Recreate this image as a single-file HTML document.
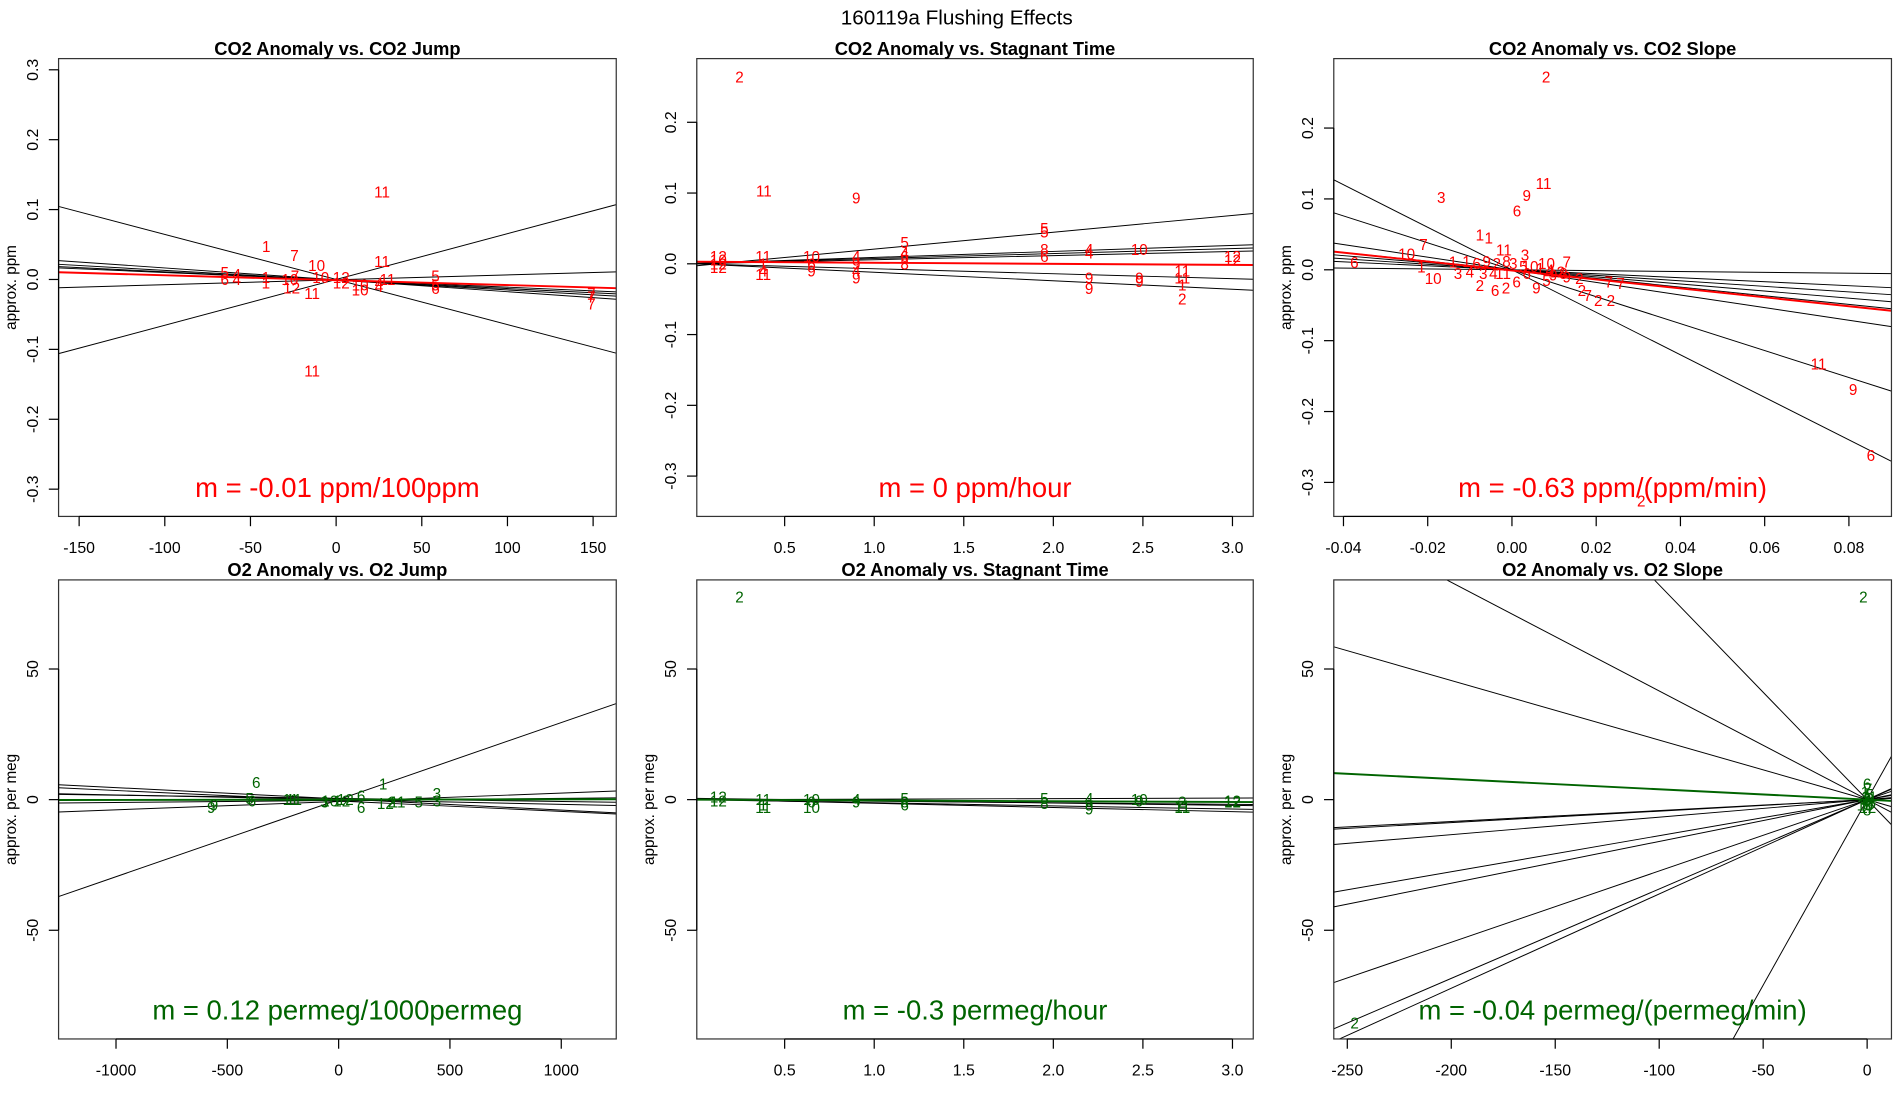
<!DOCTYPE html>
<html><head><meta charset="utf-8"><title>160119a Flushing Effects</title>
<style>html,body{margin:0;padding:0;background:#fff;overflow:hidden;width:1900px;height:1100px;}svg{display:block;}</style></head>
<body>
<svg id="fig" xmlns="http://www.w3.org/2000/svg" width="1900" height="1100" viewBox="0 0 1557 901" preserveAspectRatio="none" font-family="Liberation Sans, sans-serif">
<text x="784" y="20" font-size="17" text-anchor="middle">160119a    Flushing Effects</text>
</svg>
<script>
// ---- Panel 1: CO2 Anomaly vs. CO2 Jump ----
const p1X = [26.8,-40.8,-24.3,-11.4,26.8,-14,-14,-26,-65,-58,-65,-58,-41,-41,-27,-24,-9,3,3,14,14,25,25,30,58,58,58,149,149,149];
const p1Y = [0.125,0.047,0.034,0.02,0.026,-0.131,-0.02,-0.012,0.01,0.007,0.0,0.0,0.003,-0.005,0.0,0.005,0.003,0.003,-0.005,-0.008,-0.015,-0.005,-0.01,0.0,0.005,-0.008,-0.013,-0.02,-0.035,-0.025];
const p1Lab = ["11","1","7","10","11","11","11","12","5","4","6","4","1","1","10","7","10","12","12","10","10","4","4","11","5","5","6","7","7","7"];
const p1Slopes = [-0.000645,0.000655,0.00007,-0.00017,-0.00014,-0.00012,-0.000105];
const p1Ints = [0,0,-0.0005,-0.0005,-0.001,-0.001,-0.0005];
const p1Fit = [-0.00007,-0.001];
const p1XTicks = [-150,-100,-50,0,50,100,150];
const p1YTicks = [-0.3,-0.2,-0.1,0.0,0.1,0.2,0.3];
const p1XTickLab = ["-150","-100","-50","0","50","100","150"];
const p1YTickLab = ["-0.3","-0.2","-0.1","0.0","0.1","0.2","0.3"];

// ---- Panel 2: CO2 Anomaly vs. Stagnant Time ----
const p2X = [0.248,0.384,0.9,0.13,0.13,0.13,0.13,0.38,0.38,0.38,0.38,0.65,0.65,0.65,0.9,0.9,0.9,0.9,1.17,1.17,1.17,1.17,1.95,1.95,1.95,1.95,2.2,2.2,2.2,2.2,2.48,2.48,2.48,2.72,2.72,2.72,2.72,3.0,3.0];
const p2Y = [0.264,0.103,0.093,0.01,0.005,0.0,-0.005,0.01,0.0,-0.01,-0.015,0.01,0.0,-0.01,0.01,0.0,-0.01,-0.02,0.03,0.015,0.01,0.0,0.05,0.045,0.02,0.01,0.02,0.015,-0.02,-0.035,0.02,-0.02,-0.025,-0.01,-0.02,-0.03,-0.05,0.01,0.005];
const p2Lab = ["2","11","9","12","10","12","12","11","1","4","11","10","6","9","4","9","4","9","5","4","6","8","5","5","8","6","4","4","9","9","10","9","9","11","11","1","2","12","12"];
const p2Slopes = [0.0238,0.0085,0.007,0.0058,-0.007,-0.012];
const p2Ints = [-0.003,0.0005,0.0005,0.0,0.0,0.0];
const p2Fit = [-0.0015,0.003];
const p2XTicks = [0.5,1.0,1.5,2.0,2.5,3.0];
const p2YTicks = [-0.3,-0.2,-0.1,0.0,0.1,0.2];
const p2XTickLab = ["0.5","1.0","1.5","2.0","2.5","3.0"];
const p2YTickLab = ["-0.3","-0.2","-0.1","0.0","0.1","0.2"];

// ---- Panel 3: CO2 Anomaly vs. CO2 Slope ----
const p3X = [0.0081,-0.0168,0.0035,0.0075,0.0012,-0.0055,-0.021,-0.025,-0.0374,0.0728,0.081,0.0852,0.0307,0.0258,0.0235,-0.0076,-0.0019,0.0031,0.0082,0.013,-0.0215,-0.0187,-0.014,-0.0128,-0.010,-0.0076,-0.004,-0.0014,0.0011,0.0058,0.0082,0.013,0.016,0.0166,0.018,0.0205,0.023,-0.0108,-0.0084,-0.006,-0.0036,-0.0013,0.0003,0.0027,0.0043,0.0067,0.009,0.0106,-0.0068,-0.0044,-0.0021,0.0035,0.0098,0.0122];
const p3Y = [0.272,0.102,0.105,0.122,0.083,0.045,0.036,0.022,0.01,-0.133,-0.169,-0.262,-0.326,-0.019,-0.043,0.049,0.028,0.021,0.009,0.011,0.004,-0.012,0.011,-0.005,-0.003,-0.022,-0.029,-0.026,-0.017,-0.026,-0.015,-0.01,-0.012,-0.029,-0.036,-0.043,-0.017,0.0114,0.009,0.0114,0.009,0.0114,0.009,0.0043,0.0043,0.0019,-0.0004,-0.0028,-0.0051,-0.0051,-0.0051,-0.0051,-0.0075,-0.0051];
const p3Lab = ["2","3","9","11","6","1","7","10","6","11","9","6","2","7","2","1","11","3","10","7","1","10","1","3","4","2","6","2","6","9","5","9","2","2","7","2","7","1","6","9","2","8","3","5","10","1","4","12","3","4","11","6","9","8"];
const p3Slopes = [-3.0,-1.9,-0.89,-0.61,-0.5,-0.39,-0.28,-0.06];
const p3Ints = [0,0,0,0,0,0,0,0];
const p3Fit = [-0.63,-0.001];
const p3XTicks = [-0.04,-0.02,0.0,0.02,0.04,0.06,0.08];
const p3YTicks = [-0.3,-0.2,-0.1,0.0,0.1,0.2];
const p3XTickLab = ["-0.04","-0.02","0.00","0.02","0.04","0.06","0.08"];
const p3YTickLab = ["-0.3","-0.2","-0.1","0.0","0.1","0.2"];

// ---- Panel 4: O2 Anomaly vs. O2 Jump ----
const p4X = [-370,-400,-390,-572,-560,-216,-200,-63,-40,14,30,101,101,200,210,240,265,360,441,441];
const p4Y = [6.5,0.5,-0.5,-3,-2,0,0,-1,-0.5,-0.5,0,1.4,-3,6,-1.5,-1,-1,-1,2.3,-0.5];
const p4Lab = ["6","5","6","9","9","11","11","3","10","12","12","6","6","1","12","2","11","5","3","3"];
const p4Slopes = [0.0295,-0.0043,-0.004,0.0032,-0.0018,-0.0012,0.0008];
const p4Ints = [0,0.3,-0.5,-0.7,0,0.5,-0.3];
const p4Fit = [0.00012,0];
const p4XTicks = [-1000,-500,0,500,1000];
const p4YTicks = [-50,0,50];
const p4XTickLab = ["-1000","-500","0","500","1000"];
const p4YTickLab = ["-50","0","50"];

// ---- Panel 5: O2 Anomaly vs. Stagnant Time ----
const p5X = [0.13,0.13,0.38,0.38,0.38,0.65,0.65,0.65,0.9,0.9,1.17,1.17,1.17,1.95,1.95,2.2,2.2,2.2,2.48,2.48,2.72,2.72,2.72,3.0,3.0,0.248];
const p5Y = [1,-0.5,0,-2,-3,0,-1,-3,0,-1,0.5,-1,-2,0.5,-1.5,0.5,-2,-3.5,0,-0.5,-1,-2.5,-3,-0.5,-1,77.6];
const p5Lab = ["12","12","11","1","11","10","6","10","4","9","5","8","6","5","8","4","9","9","10","9","2","11","11","12","12","2"];
const p5Slopes = [-0.3,-1.6,-1.2,-0.6,0.2,-0.9];
const p5Ints = [0,0.2,0,0,0,0.5];
const p5Fit = [-0.3,0];
const p5XTicks = [0.5,1.0,1.5,2.0,2.5,3.0];
const p5YTicks = [-50,0,50];
const p5XTickLab = ["0.5","1.0","1.5","2.0","2.5","3.0"];
const p5YTickLab = ["-50","0","50"];

// ---- Panel 6: O2 Anomaly vs. O2 Slope ----
const p6X = [-1.8,-246.5,0,-1,1,0,-0.5,0.8,0,-1,1,0.3,0.5,-0.6];
const p6Y = [77.6,-85.5,6,3,2,0,-1,-2,-4,-2,1,-3,4,1];
const p6Lab = ["2","2","6","1","5","3","4","9","8","10","11","12","7","2"];
const p6Slopes = [-0.416,-0.822,-0.228,0.0418,0.044,0.067,0.138,0.160,0.273,0.342,0.361,1.42];
const p6Ints = [0,0,0,0,0,0,0,0,0,0,0,0];
const p6Fit = [-0.0396,0];
const p6XTicks = [-250,-200,-150,-100,-50,0];
const p6YTicks = [-50,0,50];
const p6XTickLab = ["-250","-200","-150","-100","-50","0"];
const p6YTickLab = ["-50","0","50"];

const NS = "http://www.w3.org/2000/svg";
const fig = document.getElementById('fig');
function mk(tag, attrs, parent){ const e=document.createElementNS(NS,tag); for(const k in attrs) e.setAttribute(k,attrs[k]); (parent||fig).appendChild(e); return e; }

// clip line y=a+m*x to the rectangle xlim x ylim; returns [x0,x1] or null
function clipSeg(m,a,xlim,ylim){
  let lo=xlim[0], hi=xlim[1];
  if(m!==0){
    let xa=(ylim[0]-a)/m, xb=(ylim[1]-a)/m;
    if(xa>xb){const t=xa;xa=xb;xb=t;}
    lo=Math.max(lo,xa); hi=Math.min(hi,xb);
  } else if(a<ylim[0]||a>ylim[1]) return null;
  return lo<hi?[lo,hi]:null;
}

function panel(cfg){
  const g = mk('g',{});
  
  
  const b = cfg.box;
  const sx = v => b[0] + (v - cfg.xlim[0])/(cfg.xlim[1]-cfg.xlim[0])*(b[2]-b[0]);
  const sy = v => b[3] - (v - cfg.ylim[0])/(cfg.ylim[1]-cfg.ylim[0])*(b[3]-b[1]);
  const inner = mk('g',{}, g);
  
  
  cfg.slopes.forEach((m,i)=>{
    const a=cfg.ints[i];
    const s=clipSeg(m,a,cfg.xlim,cfg.ylim);
    if(!s) return;
    const l = mk('line',{x1:sx(s[0]),y1:sy(a+m*s[0]),x2:sx(s[1]),y2:sy(a+m*s[1]),stroke:'#000','stroke-width':0.8}, inner);
    
    
  });
  cfg.px.forEach((x,i)=>{
    const t = mk('text',{x:sx(x),y:sy(cfg.py[i])+4.5,'font-size':12.5,'text-anchor':'middle',fill:cfg.color}, inner);
    t.textContent = cfg.plab[i];
    
    
  });
  const f=cfg.fit;
  const fs=clipSeg(f[0],f[1],cfg.xlim,cfg.ylim);
  if(fs){
    const fl = mk('line',{x1:sx(fs[0]),y1:sy(f[1]+f[0]*fs[0]),x2:sx(fs[1]),y2:sy(f[1]+f[0]*fs[1]),stroke:cfg.color,'stroke-width':1.6}, inner);
    
    
  }
  const bx = mk('rect',{x:b[0],y:b[1],width:b[2]-b[0],height:b[3]-b[1],fill:'none',stroke:'#333','stroke-width':1}, g);
  
  
  const xa = mk('g',{}, g);
  
  
  const xt0=sx(cfg.xticks[0]), xt1=sx(cfg.xticks[cfg.xticks.length-1]);
  mk('line',{x1:xt0,y1:b[3],x2:xt1,y2:b[3],stroke:'#000','stroke-width':1}, xa);
  cfg.xticks.forEach((v,i)=>{
    const X=sx(v);
    mk('line',{x1:X,y1:b[3],x2:X,y2:b[3]+8,stroke:'#000','stroke-width':1}, xa);
    const t=mk('text',{x:X,y:b[3]+30,'font-size':13,'text-anchor':'middle'}, xa);
    t.textContent=cfg.xtl[i];
    
    
  });
  const ya = mk('g',{}, g);
  
  
  mk('line',{x1:b[0],y1:sy(cfg.yticks[0]),x2:b[0],y2:sy(cfg.yticks[cfg.yticks.length-1]),stroke:'#000','stroke-width':1}, ya);
  cfg.yticks.forEach((v,i)=>{
    const Y=sy(v);
    mk('line',{x1:b[0]-8,y1:Y,x2:b[0],y2:Y,stroke:'#000','stroke-width':1}, ya);
    const t=mk('text',{x:b[0]-17,y:Y,'font-size':13,'text-anchor':'middle',transform:'rotate(-90 '+(b[0]-17)+' '+Y+')'}, ya);
    t.textContent=cfg.ytl[i];
    
    
  });
  if(cfg.ylab){
    const cy=(b[1]+b[3])/2, cx=b[0]-35;
    const t=mk('text',{x:cx,y:cy,'font-size':12.5,'text-anchor':'middle',transform:'rotate(-90 '+cx+' '+cy+')'}, g);
    t.textContent=cfg.ylab;
    
    
  }
  const tt=mk('text',{x:(b[0]+b[2])/2,y:b[1]-3,'font-size':15,'font-weight':'bold','text-anchor':'middle'}, g);
  tt.textContent=cfg.title;
  
  
  const mt=mk('text',{x:(b[0]+b[2])/2,y:b[3]-16,'font-size':22.5,'text-anchor':'middle',fill:cfg.color}, g);
  mt.textContent=cfg.mtext;
  
  
}

const RED='#ff0000', GREEN='#006400';
panel({name:'co2-vs-jump',box:[48,48,505,423],xlim:[-162,163.5],ylim:[-0.339,0.316],px:p1X,py:p1Y,plab:p1Lab,slopes:p1Slopes,ints:p1Ints,fit:p1Fit,xticks:p1XTicks,yticks:p1YTicks,xtl:p1XTickLab,ytl:p1YTickLab,color:RED,title:'CO2 Anomaly vs. CO2 Jump',ylab:'approx. ppm',mtext:'m = -0.01 ppm/100ppm'});
panel({name:'co2-vs-stagnant-time',box:[571,48,1027,423],xlim:[0.0095,3.116],ylim:[-0.357,0.29],px:p2X,py:p2Y,plab:p2Lab,slopes:p2Slopes,ints:p2Ints,fit:p2Fit,xticks:p2XTicks,yticks:p2YTicks,xtl:p2XTickLab,ytl:p2YTickLab,color:RED,title:'CO2 Anomaly vs. Stagnant Time',ylab:null,mtext:'m = 0 ppm/hour'});
panel({name:'co2-vs-slope',box:[1093,48,1550,423],xlim:[-0.0423,0.0901],ylim:[-0.348,0.298],px:p3X,py:p3Y,plab:p3Lab,slopes:p3Slopes,ints:p3Ints,fit:p3Fit,xticks:p3XTicks,yticks:p3YTicks,xtl:p3XTickLab,ytl:p3YTickLab,color:RED,title:'CO2 Anomaly vs. CO2 Slope',ylab:'approx. ppm',mtext:'m = -0.63 ppm/(ppm/min)'});
panel({name:'o2-vs-jump',box:[48,475,505,851],xlim:[-1258,1247],ylim:[-91.6,84.1],px:p4X,py:p4Y,plab:p4Lab,slopes:p4Slopes,ints:p4Ints,fit:p4Fit,xticks:p4XTicks,yticks:p4YTicks,xtl:p4XTickLab,ytl:p4YTickLab,color:GREEN,title:'O2 Anomaly vs. O2 Jump',ylab:'approx. per meg',mtext:'m = 0.12 permeg/1000permeg'});
panel({name:'o2-vs-stagnant-time',box:[571,475,1027,851],xlim:[0.0095,3.116],ylim:[-91.6,84.1],px:p5X,py:p5Y,plab:p5Lab,slopes:p5Slopes,ints:p5Ints,fit:p5Fit,xticks:p5XTicks,yticks:p5YTicks,xtl:p5XTickLab,ytl:p5YTickLab,color:GREEN,title:'O2 Anomaly vs. Stagnant Time',ylab:'approx. per meg',mtext:'m = -0.3 permeg/hour'});
panel({name:'o2-vs-slope',box:[1093,475,1550,851],xlim:[-256.5,11.7],ylim:[-91.6,84.1],px:p6X,py:p6Y,plab:p6Lab,slopes:p6Slopes,ints:p6Ints,fit:p6Fit,xticks:p6XTicks,yticks:p6YTicks,xtl:p6XTickLab,ytl:p6YTickLab,color:GREEN,title:'O2 Anomaly vs. O2 Slope',ylab:'approx. per meg',mtext:'m = -0.04 permeg/(permeg/min)'});
</script>
</body></html>
